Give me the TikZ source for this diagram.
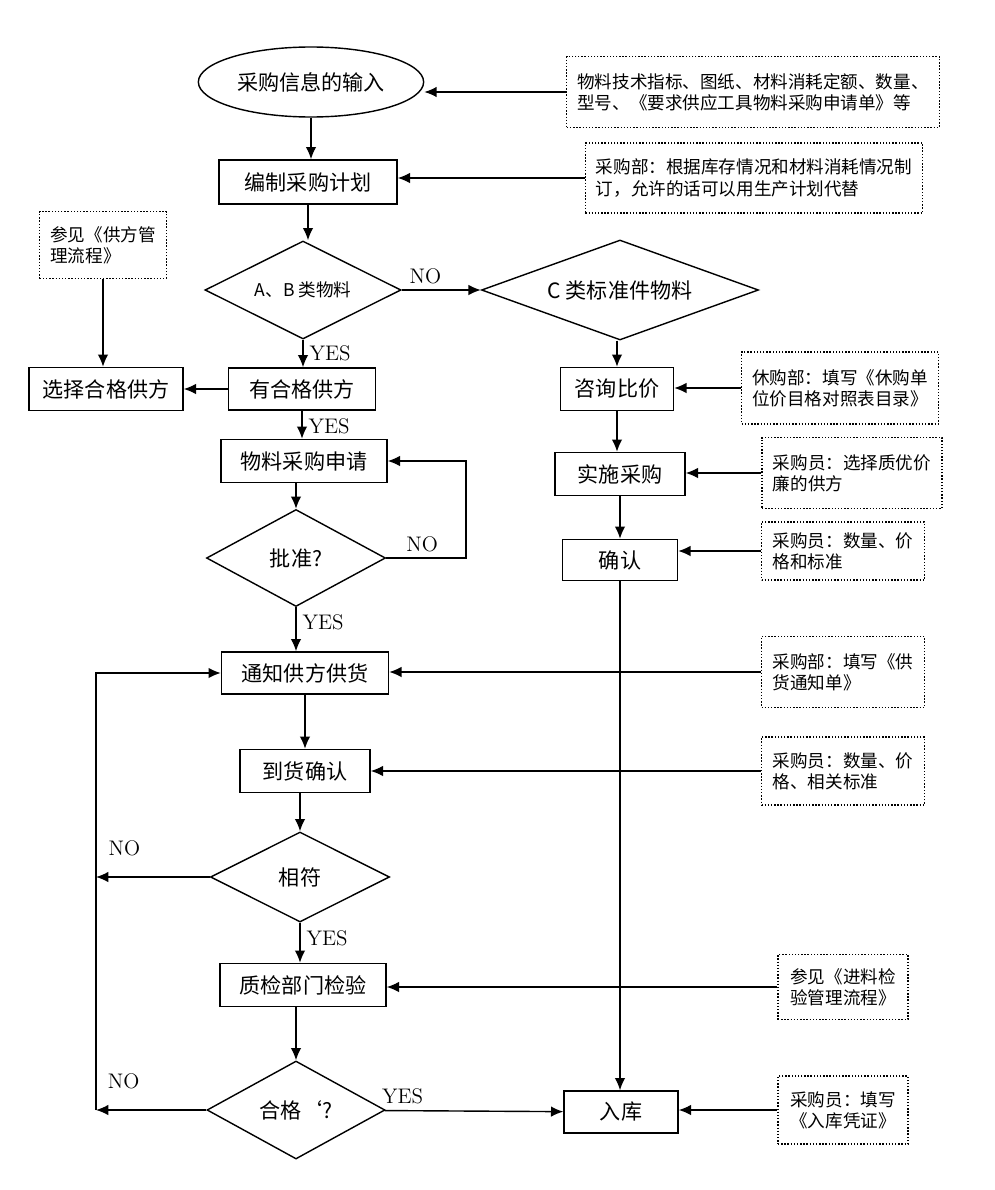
\documentclass[tikz,border=0pt]{standalone}
\usepackage{fontspec}
\setmainfont{Noto Sans CJK SC}
\usetikzlibrary{shapes.geometric}
\usetikzlibrary{arrows.meta}

\tikzset{
  proc/.style={rectangle, draw, thick, font=\large},
  choice/.style={diamond, draw, thick, aspect=2, inner sep=1pt, font=\large},
  note/.style={rectangle, draw, densely dotted, thick, align=left, font=\normalsize, inner sep=6pt},
  arr/.style={-{Latex[length=7pt,width=6pt]}, thick},
  lab/.style={font=\fontspec{Latin Modern Roman}\large}
}

\begin{document}
\begin{tikzpicture}[x=0.02cm, y=-0.02cm]
\useasboundingbox (0,0) rectangle (994,1190);

  % main column
  \node[ellipse, draw, thick, minimum width=206*0.02cm, minimum height=70*0.02cm, font=\large]
        (input) at (311,82) {采购信息的输入};
  \node[proc, minimum width=178*0.02cm, minimum height=44*0.02cm] (plan) at (308,182) {编制采购计划};
  \node[choice, minimum width=196*0.02cm, minimum height=98*0.02cm] (dAB) at (303,290) {\normalsize A、B 类物料};
  \node[proc, minimum width=147*0.02cm, minimum height=42*0.02cm] (has) at (302,389) {有合格供方};
  \node[proc, minimum width=154*0.02cm, minimum height=43*0.02cm] (sel) at (106,389) {选择合格供方};
  \node[proc, minimum width=166*0.02cm, minimum height=43*0.02cm] (apply) at (304,461) {物料采购申请};
  \node[choice, minimum width=179*0.02cm, minimum height=97*0.02cm] (approve) at (296,558) {批准?};
  \node[proc, minimum width=167*0.02cm, minimum height=42*0.02cm] (notify) at (305,673) {通知供方供货};
  \node[proc, minimum width=130*0.02cm, minimum height=43*0.02cm] (arrive) at (305,771) {到货确认};
  \node[choice, minimum width=179*0.02cm, minimum height=90*0.02cm] (match) at (300,877) {相符};
  \node[proc, minimum width=166*0.02cm, minimum height=43*0.02cm] (qc) at (303,985) {质检部门检验};
  \node[choice, minimum width=178*0.02cm, minimum height=98*0.02cm] (pass) at (296,1110) {合格`?};

  % C branch
  \node[choice, minimum width=277*0.02cm, minimum height=100*0.02cm] (dC) at (620,290) {C 类标准件物料};
  \node[proc, minimum width=113*0.02cm, minimum height=43*0.02cm] (consult) at (617,389) {咨询比价};
  \node[proc, minimum width=130*0.02cm, minimum height=43*0.02cm] (impl) at (620,474) {实施采购};
  \node[proc, minimum width=115*0.02cm, minimum height=41*0.02cm] (confirm) at (620,560) {确认};
  \node[proc, minimum width=114*0.02cm, minimum height=42*0.02cm] (store) at (621,1112) {入库};

  % notes
  \node[note, minimum width=343*0.02cm, minimum height=71*0.02cm] (n1) at (753,92)
        {物料技术指标、图纸、材料消耗定额、数量、\\型号、《要求供应工具物料采购申请单》等};
  \node[note, minimum width=327*0.02cm, minimum height=70*0.02cm] (n2) at (754,178)
        {采购部：根据库存情况和材料消耗情况制\\订，允许的话可以用生产计划代替};
  \node[note, minimum width=124*0.02cm, minimum height=67*0.02cm] (n0) at (103,245)
        {参见《供方管\\理流程》};
  \node[note, minimum width=196*0.02cm, minimum height=72*0.02cm] (n3) at (840,388)
        {休购部：填写《休购单\\位价目格对照表目录》};
  \node[note, minimum width=180*0.02cm, minimum height=71*0.02cm] (n4) at (852,473)
        {采购员：选择质优价\\廉的供方};
  \node[note, minimum width=163*0.02cm, minimum height=58*0.02cm] (n5) at (843,551)
        {采购员：数量、价\\格和标准};
  \node[note, minimum width=163*0.02cm, minimum height=71*0.02cm] (n6) at (843,672)
        {采购部：填写《供\\货通知单》};
  \node[note, minimum width=163*0.02cm, minimum height=68*0.02cm] (n7) at (843,771)
        {采购员：数量、价\\格、相关标准};
  \node[note, minimum width=130*0.02cm, minimum height=65*0.02cm] (n8) at (843,987)
        {参见《进料检\\验管理流程》};
  \node[note, minimum width=130*0.02cm, minimum height=68*0.02cm, align=center] (n9) at (843,1110)
        {采购员：填写\\《入库凭证》};

  \coordinate (loopR) at (466,558);
  \coordinate (backL) at (96,877);

  % flow
  \draw[arr] (input) -- (input |- plan.north);
  \draw[arr] (plan) -- (plan |- dAB.north);
  \draw[arr] (dAB) -- node[lab, above, pos=0.3] {NO} (dC);
  \draw[arr] (dAB) -- node[lab, right, pos=0.5] {YES} (dAB |- has.north);
  \draw[arr] (has) -- (sel);
  \draw[arr] (n0) -- (n0 |- sel.north);
  \draw[arr] (has) -- node[lab, right, pos=0.55] {YES} (has |- apply.north);
  \draw[arr] (apply.south -| approve) -- (approve.north);
  \draw[arr] (approve.east) -- node[lab, above, pos=0.45] {NO} (loopR) |- (apply.east);
  \draw[arr] (approve) -- node[lab, right, pos=0.35] {YES} (approve |- notify.north);
  \draw[arr] (notify) -- (notify |- arrive.north);
  \draw[arr] (arrive.south -| match) -- (match.north);
  \draw[arr] (match) -- node[lab, right, pos=0.4] {YES} (match |- qc.north);
  \draw[arr] (qc.south -| pass) -- (pass.north);
  \draw[arr] (pass) -- node[lab, above, pos=0.1] {YES} (store);
  \draw[arr] (match.west) -- node[lab, above, pos=0.75, yshift=8pt] {NO} (backL);
  \draw[arr] (pass.west) -- node[lab, above, pos=0.75, yshift=8pt] {NO} (pass.west -| backL);
  \draw[arr] (pass.west -| backL) -- (backL) |- (notify.west);
  \draw[arr] (dC.south -| consult) -- (consult.north);
  \draw[arr] (consult) -- (consult |- impl.north);
  \draw[arr] (impl) -- (impl |- confirm.north);
  \draw[arr] (confirm) -- (confirm |- store.north);

  % notes to steps
  \draw[arr] (n1.west) -- (n1.west -| input.east);
  \draw[arr] (n2.west) -- (n2.west -| plan.east);
  \draw[arr] (n3.west) -- (n3.west -| consult.east);
  \draw[arr] (n4.west) -- (n4.west -| impl.east);
  \draw[arr] (n5.west) -- (n5.west -| confirm.east);
  \draw[arr] (n6.west) -- (n6.west -| notify.east);
  \draw[arr] (n7.west) -- (n7.west -| arrive.east);
  \draw[arr] (n8.west) -- (n8.west -| qc.east);
  \draw[arr] (n9.west) -- (n9.west -| store.east);
\end{tikzpicture}
\end{document}
